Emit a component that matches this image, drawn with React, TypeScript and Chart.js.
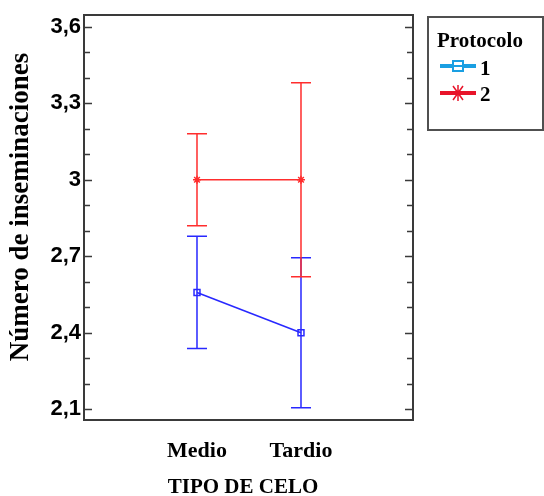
import React, { useEffect, useRef } from 'react';
import { Chart, registerables } from 'chart.js';

Chart.register(...registerables);

const categories = ['Medio', 'Tardio'];
const p1Mean = [2.558, 2.4];
const p1Upper = [2.778, 2.694];
const p1Lower = [2.338, 2.106];
const p2Mean = [3.0, 3.0];
const p2Upper = [3.18, 3.38];
const p2Lower = [2.82, 2.62];
const yTickValues = [2.1, 2.4, 2.7, 3.0, 3.3, 3.6];
const yTickLabels = ['2,1', '2,4', '2,7', '3', '3,3', '3,6'];
const yMinorTicks = [2.2, 2.3, 2.5, 2.6, 2.8, 2.9, 3.1, 3.2, 3.4, 3.5];
const seriesNames = ['1', '2'];
const legendTitle = 'Protocolo';
const yTitle = 'Número de inseminaciones';
const xTitle = 'TIPO DE CELO';

const BLUE = 'rgb(40,40,255)';
const RED = 'rgb(255,45,45)';
const LEG_BLUE = '#1a9fe2';
const LEG_RED = '#e8142a';
const SERIF = '"Liberation Serif", "Times New Roman", serif';
const SANS = '"Liberation Sans", Arial, sans-serif';

const errorBarPlugin = {
  id: 'errorBars',
  beforeDatasetsDraw(chart: any) {
    const xs = chart.scales.x;
    const ys = chart.scales.y;
    const ctx = chart.ctx;
    const groups = [
      { up: p1Upper, lo: p1Lower, color: BLUE },
      { up: p2Upper, lo: p2Lower, color: RED },
    ];
    ctx.save();
    groups.forEach((g) => {
      ctx.strokeStyle = g.color;
      ctx.lineWidth = 1.5;
      categories.forEach((_, i) => {
        const x = xs.getPixelForValue(i + 1);
        const yu = ys.getPixelForValue(g.up[i]);
        const yl = ys.getPixelForValue(g.lo[i]);
        ctx.beginPath();
        ctx.moveTo(x, yu);
        ctx.lineTo(x, yl);
        ctx.moveTo(x - 10, yu);
        ctx.lineTo(x + 10, yu);
        ctx.moveTo(x - 10, yl);
        ctx.lineTo(x + 10, yl);
        ctx.stroke();
      });
    });
    ctx.restore();
  },
};

const framePlugin = {
  id: 'frame',
  afterDraw(chart: any) {
    const { ctx, chartArea } = chart;
    const ys = chart.scales.y;
    const { left, right, top, bottom } = chartArea;
    ctx.save();
    ctx.strokeStyle = '#3a3a3a';
    ctx.lineWidth = 2;
    ctx.strokeRect(left, top, right - left, bottom - top);
    ctx.lineWidth = 1.5;
    const drawTick = (v: number, len: number) => {
      const y = Math.round(ys.getPixelForValue(v)) + 0.5;
      ctx.beginPath();
      ctx.moveTo(left, y);
      ctx.lineTo(left + len, y);
      ctx.moveTo(right, y);
      ctx.lineTo(right - len, y);
      ctx.stroke();
    };
    yTickValues.forEach((v) => drawTick(v, 8));
    yMinorTicks.forEach((v) => drawTick(v, 6));

    // x axis title
    ctx.fillStyle = '#000';
    ctx.font = `bold 21px ${SERIF}`;
    ctx.textAlign = 'center';
    ctx.textBaseline = 'alphabetic';
    ctx.fillText(xTitle, 243, 493);

    // y axis title
    ctx.font = `bold 27px ${SERIF}`;
    ctx.textAlign = 'center';
    ctx.textBaseline = 'middle';
    ctx.translate(21, 207);
    ctx.rotate(-Math.PI / 2);
    ctx.fillText(yTitle, 0, 0);
    ctx.restore();

    // legend
    ctx.save();
    ctx.strokeStyle = '#505050';
    ctx.lineWidth = 2;
    ctx.strokeRect(428, 17, 115, 113);
    ctx.fillStyle = '#000';
    ctx.font = `bold 21px ${SERIF}`;
    ctx.textAlign = 'left';
    ctx.textBaseline = 'alphabetic';
    ctx.fillText(legendTitle, 437, 47);
    // item 1
    ctx.strokeStyle = LEG_BLUE;
    ctx.lineWidth = 4;
    ctx.beginPath();
    ctx.moveTo(440, 66);
    ctx.lineTo(476, 66);
    ctx.stroke();
    ctx.lineWidth = 2;
    ctx.fillStyle = '#fff';
    ctx.fillRect(453, 61, 10, 10);
    ctx.strokeRect(453, 61, 10, 10);
    ctx.beginPath();
    ctx.moveTo(453, 66);
    ctx.lineTo(463, 66);
    ctx.stroke();
    // item 2
    ctx.strokeStyle = LEG_RED;
    ctx.lineWidth = 4;
    ctx.beginPath();
    ctx.moveTo(440, 93);
    ctx.lineTo(476, 93);
    ctx.stroke();
    ctx.lineWidth = 1.5;
    ctx.beginPath();
    ctx.moveTo(453, 86);
    ctx.lineTo(463, 100);
    ctx.moveTo(463, 86);
    ctx.lineTo(453, 100);
    ctx.moveTo(458, 85);
    ctx.lineTo(458, 101);
    ctx.stroke();
    ctx.fillStyle = '#000';
    ctx.font = `bold 21px ${SERIF}`;
    ctx.fillText(seriesNames[0], 480, 75);
    ctx.fillText(seriesNames[1], 480, 101);
    ctx.restore();
  },
};

export default function App() {
  const ref = useRef<HTMLCanvasElement | null>(null);
  useEffect(() => {
    document.body.style.margin = '0';
    if (!ref.current) return;
    const chart = new Chart(ref.current, {
      type: 'line',
      data: {
        datasets: [
          {
            label: seriesNames[0],
            data: categories.map((_, i) => ({ x: i + 1, y: p1Mean[i] })),
            borderColor: BLUE,
            borderWidth: 1.5,
            pointStyle: 'rect',
            pointRadius: 4.2,
            pointBorderColor: BLUE,
            pointBackgroundColor: 'rgba(0,0,0,0)',
            pointBorderWidth: 1.5,
          },
          {
            label: seriesNames[1],
            data: categories.map((_, i) => ({ x: i + 1, y: p2Mean[i] })),
            borderColor: RED,
            borderWidth: 1.5,
            pointStyle: 'star',
            pointRadius: 4,
            pointBorderColor: RED,
            pointBorderWidth: 1.5,
          },
        ],
      },
      options: {
        animation: false,
        responsive: false,
        devicePixelRatio: 1,
        layout: { padding: { left: 0, top: 15, right: 131, bottom: 0 } },
        plugins: {
          legend: { display: false },
          tooltip: { enabled: false },
        },
        scales: {
          x: {
            type: 'linear',
            min: -0.0865,
            max: 3.077,
            grid: { display: false, drawTicks: false },
            border: { display: false },
            afterBuildTicks: (s: any) => {
              s.ticks = categories.map((_, i) => ({ value: i + 1 }));
            },
            afterFit: (s: any) => {
              s.height = 76;
              s.paddingLeft = 0;
              s.paddingRight = 0;
            },
            ticks: {
              padding: 18,
              color: '#000',
              font: { family: SERIF, size: 22, weight: 'bold' },
              callback: (v: any) => categories[Math.round(v) - 1] ?? '',
              maxRotation: 0,
              autoSkip: false,
            },
          },
          y: {
            type: 'linear',
            min: 2.058,
            max: 3.646,
            grid: { display: false, drawTicks: false },
            border: { display: false },
            afterBuildTicks: (s: any) => {
              s.ticks = yTickValues.map((v) => ({ value: v }));
            },
            afterFit: (s: any) => {
              s.width = 84;
              s.paddingTop = 0;
              s.paddingBottom = 0;
            },
            ticks: {
              padding: 3,
              color: '#000',
              font: { family: SANS, size: 22, weight: 'bold' },
              callback: (v: any) => {
                const idx = yTickValues.findIndex((t) => Math.abs(t - v) < 1e-6);
                return idx >= 0 ? yTickLabels[idx] : '';
              },
              autoSkip: false,
            },
          },
        },
      },
      plugins: [errorBarPlugin, framePlugin],
    } as any);
    return () => chart.destroy();
  }, []);
  return (
    <div style={{ width: 544, height: 496, position: 'relative' }}>
      <canvas ref={ref} width={544} height={496} style={{ display: 'block' }} />
    </div>
  );
}
